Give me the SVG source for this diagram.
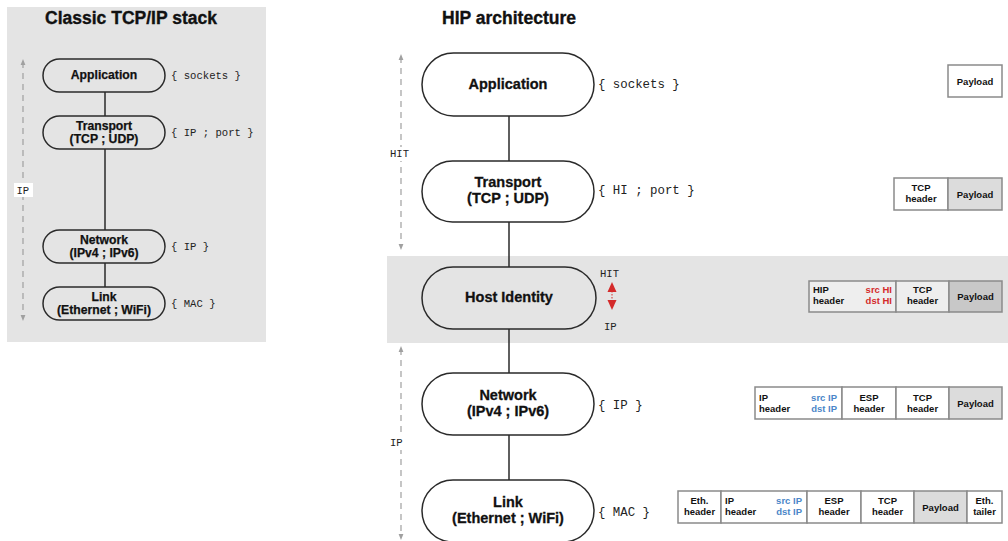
<svg xmlns="http://www.w3.org/2000/svg" width="1008" height="541" viewBox="0 0 1008 541">
  <defs>
    <style>
      .title { font-family: "Liberation Sans", Arial, sans-serif; font-weight: bold; font-size: 17.5px; fill: #111; stroke: #111; stroke-width: 0.35; }
      .node { fill: none; stroke: #2a2a2a; stroke-width: 1.5; }
      .node-w { fill: #fff; stroke: #2a2a2a; stroke-width: 1.5; }
      .nl { font-family: "Liberation Sans", Arial, sans-serif; font-weight: bold; font-size: 14.5px; fill: #111; stroke: #111; stroke-width: 0.3; text-anchor: middle; }
      .ns { font-family: "Liberation Sans", Arial, sans-serif; font-weight: bold; font-size: 12.2px; fill: #111; stroke: #111; stroke-width: 0.25; text-anchor: middle; }
      .mono { font-family: "Liberation Mono", "Courier New", monospace; font-size: 12.4px; fill: #222; }
      .mono-s { font-family: "Liberation Mono", "Courier New", monospace; font-size: 10.6px; fill: #222; }
      .link { stroke: #2a2a2a; stroke-width: 1.5; fill: none; }
      .dash { stroke: #a0a0a0; stroke-width: 1.2; stroke-dasharray: 6 5; fill: none; }
      .cell { fill: #fff; stroke: #8a8a8a; stroke-width: 1.5; }
      .cell-pay { fill: #dcdcdc; stroke: #8a8a8a; stroke-width: 1.5; }
      .cell-band { fill: #eeeeee; stroke: #8a8a8a; stroke-width: 1.5; }
      .cell-pay-band { fill: #c8c8c8; stroke: #8a8a8a; stroke-width: 1.5; }
      .pk { font-family: "Liberation Sans", Arial, sans-serif; font-weight: bold; font-size: 9.5px; fill: #111; }
      .pkc { font-family: "Liberation Sans", Arial, sans-serif; font-weight: bold; font-size: 9.5px; fill: #111; text-anchor: middle; }
      .red { fill: #d42a2a; }
      .blue { fill: #4a86c8; }
    </style>
    <marker id="gray-head" viewBox="0 0 10 10" refX="5" refY="5" markerWidth="6" markerHeight="8" orient="auto-start-reverse" markerUnits="userSpaceOnUse">
      <path d="M0,1 L10,5 L0,9 z" fill="#a0a0a0"/>
    </marker>
  </defs>

  <!-- backgrounds -->
  <rect x="7" y="7" width="259" height="335" fill="#e4e4e4"/>
  <rect x="387" y="256" width="621" height="87" fill="#e4e4e4"/>

  <!-- titles -->
  <text class="title" x="131" y="24" text-anchor="middle">Classic TCP/IP stack</text>
  <text class="title" x="509" y="24" text-anchor="middle">HIP architecture</text>

  <!-- connectors -->
  <g id="connectors">
    <line class="link" x1="105" y1="92" x2="105" y2="116"/>
    <line class="link" x1="105" y1="149" x2="105" y2="230"/>
    <line class="link" x1="105" y1="263" x2="105" y2="287"/>
    <line class="link" x1="509" y1="116" x2="509" y2="161"/>
    <line class="link" x1="509" y1="222" x2="509" y2="267"/>
    <line class="link" x1="509" y1="329" x2="509" y2="373"/>
    <line class="link" x1="509" y1="435" x2="509" y2="480"/>
    <!-- scope arrows -->
    <line class="dash" x1="23" y1="62" x2="23" y2="318" marker-start="url(#gray-head)" marker-end="url(#gray-head)"/>
    <line class="dash" x1="401" y1="57" x2="401" y2="247" marker-start="url(#gray-head)" marker-end="url(#gray-head)"/>
    <line class="dash" x1="401" y1="349" x2="401" y2="537" marker-start="url(#gray-head)" marker-end="url(#gray-head)"/>
  </g>

  <!-- scope labels -->
  <rect x="14" y="183" width="19" height="14" fill="#fff"/>
  <text class="mono-s" x="16.5" y="194">IP</text>
  <rect x="388" y="147" width="26" height="14" fill="#fff"/>
  <text class="mono-s" x="390" y="157">HIT</text>
  <rect x="388" y="436" width="20" height="14" fill="#fff"/>
  <text class="mono-s" x="390" y="446">IP</text>

  <!-- classic stack -->
  <g id="c-app">
    <rect class="node" x="43" y="59" width="122" height="33" rx="16.5"/>
    <text class="ns" x="104" y="79">Application</text>
    <text class="mono-s" x="171" y="79">{ sockets }</text>
  </g>
  <g id="c-transport">
    <rect class="node" x="43" y="116" width="122" height="33" rx="16.5"/>
    <text class="ns" x="104" y="130">Transport</text>
    <text class="ns" x="104" y="143">(TCP ; UDP)</text>
    <text class="mono-s" x="171" y="136">{ IP ; port }</text>
  </g>
  <g id="c-network">
    <rect class="node" x="43" y="230" width="122" height="33" rx="16.5"/>
    <text class="ns" x="104" y="244">Network</text>
    <text class="ns" x="104" y="257">(IPv4 ; IPv6)</text>
    <text class="mono-s" x="171" y="250">{ IP }</text>
  </g>
  <g id="c-link">
    <rect class="node" x="43" y="287" width="122" height="33" rx="16.5"/>
    <text class="ns" x="104" y="301">Link</text>
    <text class="ns" x="104" y="314">(Ethernet ; WiFi)</text>
    <text class="mono-s" x="171" y="307">{ MAC }</text>
  </g>

  <!-- HIP stack -->
  <g id="h-app">
    <rect class="node-w" x="422" y="53" width="172" height="63" rx="31.5"/>
    <text class="nl" x="508" y="89">Application</text>
    <text class="mono" x="598" y="88">{ sockets }</text>
    <rect class="cell" x="948" y="65" width="54" height="32"/>
    <text class="pkc" x="975" y="84.5">Payload</text>
  </g>

  <g id="h-transport">
    <rect class="node-w" x="422" y="161" width="172" height="61" rx="30.5"/>
    <text class="nl" x="508" y="187">Transport</text>
    <text class="nl" x="508" y="203">(TCP ; UDP)</text>
    <text class="mono" x="598" y="194">{ HI ; port }</text>
    <rect class="cell" x="894" y="178" width="54" height="32"/>
    <rect class="cell-pay" x="948" y="178" width="54" height="32"/>
    <text class="pkc" x="921" y="191">TCP</text>
    <text class="pkc" x="921" y="202">header</text>
    <text class="pkc" x="975" y="197.5">Payload</text>
  </g>

  <g id="h-hostid">
    <rect class="node" x="422" y="267" width="174" height="62" rx="31"/>
    <text class="nl" x="509" y="302">Host Identity</text>
    <text class="mono-s" x="600" y="277">HIT</text>
    <text class="mono-s" x="604" y="330">IP</text>
    <line x1="612" y1="291" x2="612" y2="301" stroke="#d42a2a" stroke-width="1" stroke-dasharray="1.5 1.5"/>
    <path d="M612,282 L616.5,292 L607.5,292 z" fill="#d42a2a"/>
    <path d="M612,310 L616.5,300 L607.5,300 z" fill="#d42a2a"/>
    <rect class="cell-band" x="809" y="281" width="87" height="31"/>
    <rect class="cell-band" x="896" y="281" width="53" height="31"/>
    <rect class="cell-pay-band" x="949" y="281" width="53" height="31"/>
    <text class="pk" x="813" y="293">HIP</text>
    <text class="pk" x="813" y="304">header</text>
    <text class="pk red" x="892" y="293" text-anchor="end">src HI</text>
    <text class="pk red" x="892" y="304" text-anchor="end">dst HI</text>
    <text class="pkc" x="922.5" y="293">TCP</text>
    <text class="pkc" x="922.5" y="304">header</text>
    <text class="pkc" x="975.5" y="300">Payload</text>
  </g>

  <g id="h-network">
    <rect class="node-w" x="422" y="373" width="172" height="62" rx="31"/>
    <text class="nl" x="508" y="400">Network</text>
    <text class="nl" x="508" y="416">(IPv4 ; IPv6)</text>
    <text class="mono" x="598" y="409">{ IP }</text>
    <rect class="cell" x="755" y="387" width="87" height="32"/>
    <rect class="cell" x="842" y="387" width="54" height="32"/>
    <rect class="cell" x="896" y="387" width="53" height="32"/>
    <rect class="cell-pay" x="949" y="387" width="53" height="32"/>
    <text class="pk" x="759" y="400.5">IP</text>
    <text class="pk" x="759" y="411.5">header</text>
    <text class="pk blue" x="837" y="400.5" text-anchor="end">src IP</text>
    <text class="pk blue" x="837" y="411.5" text-anchor="end">dst IP</text>
    <text class="pkc" x="869" y="400.5">ESP</text>
    <text class="pkc" x="869" y="411.5">header</text>
    <text class="pkc" x="922.5" y="400.5">TCP</text>
    <text class="pkc" x="922.5" y="411.5">header</text>
    <text class="pkc" x="975.5" y="406.5">Payload</text>
  </g>

  <g id="h-link">
    <rect class="node-w" x="422" y="480" width="172" height="62" rx="31"/>
    <text class="nl" x="508" y="507">Link</text>
    <text class="nl" x="508" y="523">(Ethernet ; WiFi)</text>
    <text class="mono" x="598" y="516">{ MAC }</text>
    <rect class="cell" x="678" y="491" width="43" height="32"/>
    <rect class="cell" x="721" y="491" width="86" height="32"/>
    <rect class="cell" x="807" y="491" width="54" height="32"/>
    <rect class="cell" x="861" y="491" width="53" height="32"/>
    <rect class="cell-pay" x="914" y="491" width="53" height="32"/>
    <rect class="cell" x="967" y="491" width="35" height="32"/>
    <text class="pkc" x="699.5" y="504">Eth.</text>
    <text class="pkc" x="699.5" y="515">header</text>
    <text class="pk" x="725" y="504">IP</text>
    <text class="pk" x="725" y="515">header</text>
    <text class="pk blue" x="802" y="504" text-anchor="end">src IP</text>
    <text class="pk blue" x="802" y="515" text-anchor="end">dst IP</text>
    <text class="pkc" x="834" y="504">ESP</text>
    <text class="pkc" x="834" y="515">header</text>
    <text class="pkc" x="887.5" y="504">TCP</text>
    <text class="pkc" x="887.5" y="515">header</text>
    <text class="pkc" x="940.5" y="510.5">Payload</text>
    <text class="pkc" x="984.5" y="504">Eth.</text>
    <text class="pkc" x="984.5" y="515">tailer</text>
  </g>
</svg>
